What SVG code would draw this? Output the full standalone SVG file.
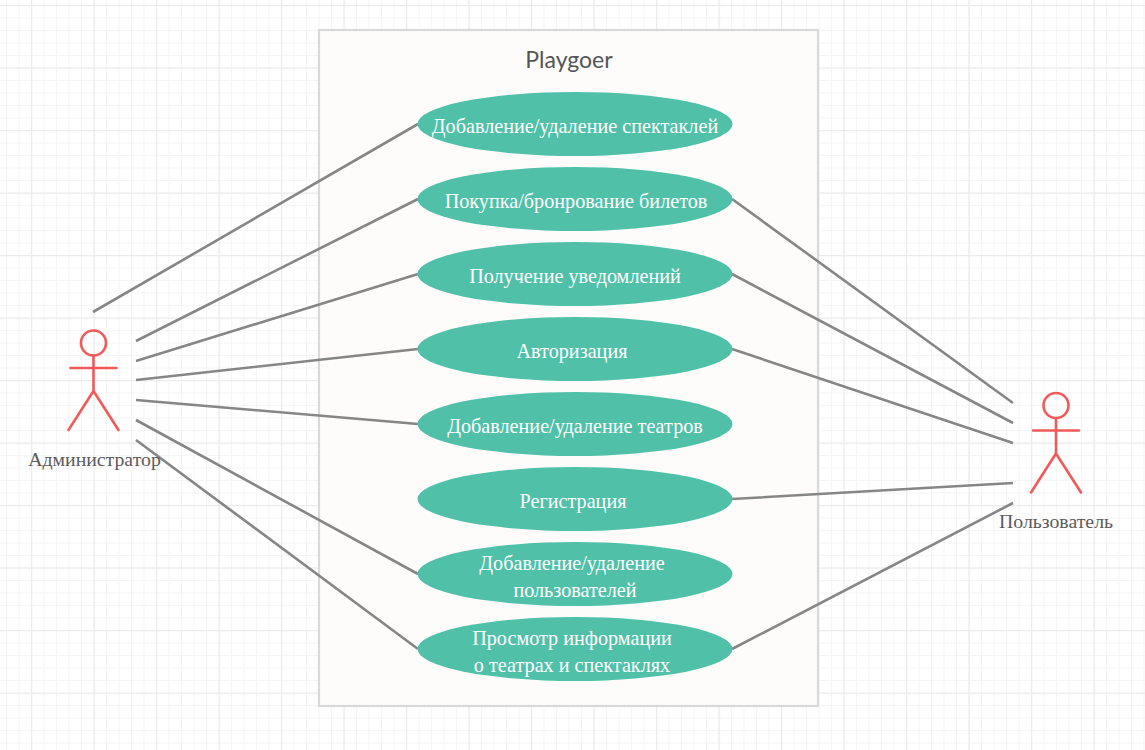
<svg xmlns="http://www.w3.org/2000/svg" width="1145" height="750" viewBox="0 0 1145 750">
<style>
.u{fill:#50c0a9}
.t{font-family:"Liberation Serif","Noto Sans CJK SC",serif;font-size:20.2px;fill:#fff;text-anchor:middle}
.a{font-family:"Liberation Serif","Noto Sans CJK SC",serif;font-size:19.8px;fill:#5b5b5b;text-anchor:middle}
.s{fill:none;stroke:#f25a5a;stroke-width:2.6;stroke-linecap:round}
.c{fill:none;stroke:#868686;stroke-width:2.6}
</style>
<defs>
<pattern id="minor" width="12.5" height="12.5" patternUnits="userSpaceOnUse" x="6" y="5"><path d="M0.5 0V12.5M0 0.5H12.5" fill="none" stroke="#f5f5f5" stroke-width="1"/></pattern>
<pattern id="major" width="62.5" height="62.5" patternUnits="userSpaceOnUse" x="31" y="5"><path d="M0.5 0V62.5M0 0.5H62.5" fill="none" stroke="#ececec" stroke-width="1.5"/></pattern>
<g id="actor"><circle cx="0" cy="-62" r="12.5" class="s"/><path class="s" d="M0-49V-14M-23-37H23M0-14L-25 25M0-14L25 25"/></g>
</defs>
<g id="grid"><rect width="1145" height="750" fill="#fff"/><rect width="1145" height="750" fill="url(#minor)"/><rect width="1145" height="750" fill="url(#major)"/></g>
<g id="boundary"><rect x="319" y="30" width="499" height="676" fill="#fdfcfb" stroke="#d9d9d9" stroke-width="2.2"/><text x="569" y="68" font-family="Lato,'Open Sans',sans-serif" font-size="23" fill="#555" text-anchor="middle">Playgoer</text></g>
<g id="connectors">
<path class="c" d="M93 312L418 124M136 341L418 199M136 361L418 274M136 380L418 349M136 400L418 424M136 420L418 574M136 440L418 649M732 199L1013 403M732 274L1013 423M732 349L1013 443M732 499L1013 483M732 649L1013 503"/>
</g>
<g id="uc1"><ellipse class="u" cx="575" cy="124" rx="157.500" ry="32"/><text class="t" x="575" y="133">Добавление/удаление спектаклей</text></g>
<g id="uc2"><ellipse class="u" cx="575" cy="199" rx="157.500" ry="32"/><text class="t" x="576" y="208">Покупка/бронрование билетов</text></g>
<g id="uc3"><ellipse class="u" cx="575" cy="274" rx="157.500" ry="32"/><text class="t" x="575" y="283">Получение уведомлений</text></g>
<g id="uc4"><ellipse class="u" cx="575" cy="349" rx="157.500" ry="32"/><text class="t" x="572" y="358">Авторизация</text></g>
<g id="uc5"><ellipse class="u" cx="575" cy="424" rx="157.500" ry="32"/><text class="t" x="575" y="433">Добавление/удаление театров</text></g>
<g id="uc6"><ellipse class="u" cx="575" cy="499" rx="157.500" ry="32"/><text class="t" x="573" y="508">Регистрация</text></g>
<g id="uc7"><ellipse class="u" cx="575" cy="574" rx="157.500" ry="32"/><text class="t" x="572" y="570">Добавление/удаление</text><text class="t" x="575" y="597">пользователей</text></g>
<g id="uc8"><ellipse class="u" cx="575" cy="649" rx="157.500" ry="32"/><text class="t" x="572" y="645">Просмотр информации</text><text class="t" x="572" y="672">о театрах и спектаклях</text></g>
<g id="admin"><use href="#actor" x="93.500" y="405"/><text class="a" x="94.500" y="466">Администратор</text></g>
<g id="user"><use href="#actor" x="1056" y="467.500"/><text class="a" x="1056" y="528">Пользователь</text></g>
</svg>
